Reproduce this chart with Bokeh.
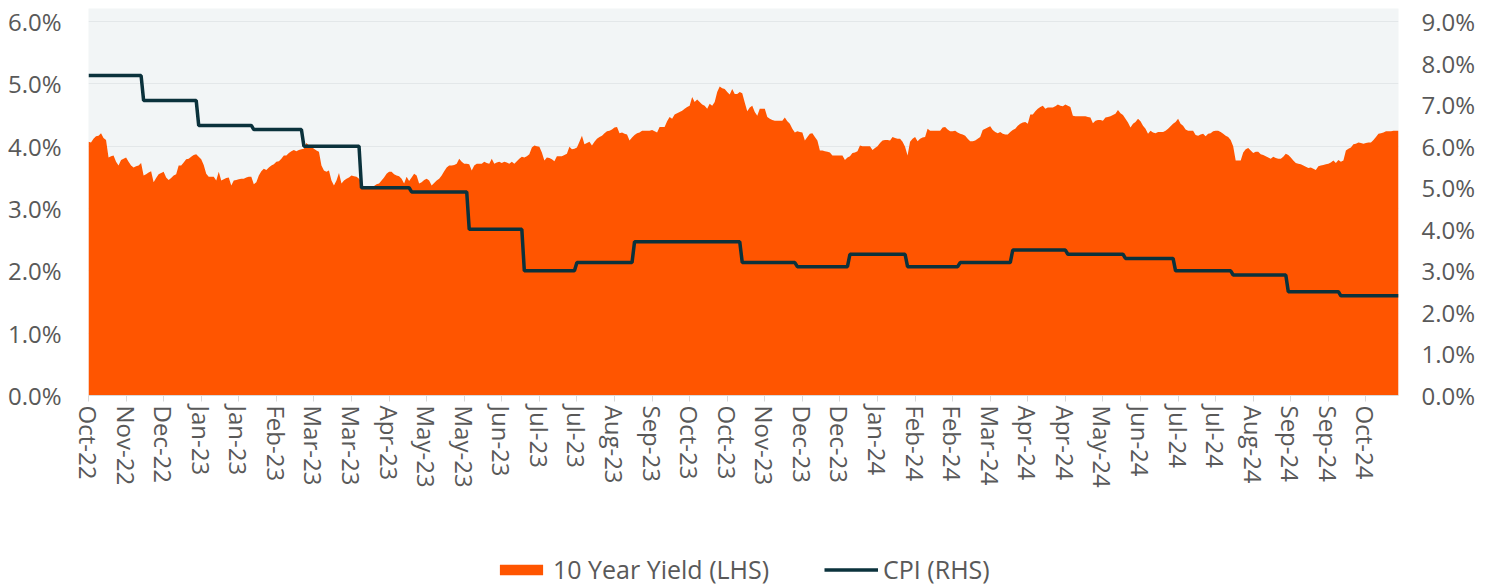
import numpy as np
import pandas as pd
from bokeh.plotting import figure
from bokeh.layouts import column
from bokeh.models import (Range1d, LinearAxis, FixedTicker, PrintfTickFormatter,
                          Legend, LegendItem, ColumnDataSource, Grid)
from bokeh.embed import file_html
from bokeh.resources import INLINE

# ---------------- data ----------------
first_day = "2022-10-31"
last_day = "2024-10-31"

# x-axis labels, one every 15 business days
tick_labels = ["Oct-22", "Nov-22", "Dec-22", "Jan-23", "Jan-23", "Feb-23", "Mar-23",
               "Mar-23", "Apr-23", "May-23", "May-23", "Jun-23", "Jul-23", "Jul-23",
               "Aug-23", "Sep-23", "Oct-23", "Oct-23", "Nov-23", "Dec-23", "Dec-23",
               "Jan-24", "Feb-24", "Feb-24", "Mar-24", "Apr-24", "Apr-24", "May-24",
               "Jun-24", "Jul-24", "Jul-24", "Aug-24", "Sep-24", "Sep-24", "Oct-24"]
label_every = 15

# 10 year treasury yield (%), one value per business day
yield_10y = [
    4.07, 4.06, 4.12, 4.16, 4.17, 4.21, 4.13, 4.10, 3.82, 3.84,
    3.85, 3.75, 3.69, 3.78, 3.80, 3.82, 3.75, 3.69, 3.66, 3.68,
    3.69, 3.73, 3.53, 3.55, 3.58, 3.60, 3.42, 3.49, 3.55, 3.57,
    3.59, 3.50, 3.46, 3.49, 3.53, 3.55, 3.69, 3.69, 3.74, 3.79,
    3.80, 3.83, 3.86, 3.87, 3.83, 3.79, 3.70, 3.56, 3.51, 3.51,
    3.51, 3.45, 3.59, 3.45, 3.47, 3.49, 3.50, 3.37, 3.45, 3.46,
    3.47, 3.48, 3.48, 3.50, 3.51, 3.51, 3.39, 3.42, 3.53, 3.60,
    3.64, 3.62, 3.66, 3.69, 3.71, 3.75, 3.76, 3.80, 3.85, 3.85,
    3.89, 3.92, 3.94, 3.92, 3.94, 3.95, 3.96, 4.05, 4.01, 3.99,
    3.96, 3.93, 3.91, 3.69, 3.61, 3.59, 3.61, 3.45, 3.37, 3.45,
    3.57, 3.40, 3.45, 3.48, 3.50, 3.53, 3.52, 3.51, 3.48, 3.43,
    3.33, 3.33, 3.34, 3.35, 3.36, 3.39, 3.40, 3.45, 3.50, 3.56,
    3.59, 3.59, 3.55, 3.53, 3.52, 3.48, 3.40, 3.51, 3.44, 3.50,
    3.56, 3.53, 3.40, 3.42, 3.46, 3.48, 3.45, 3.37, 3.41, 3.45,
    3.48, 3.53, 3.60, 3.66, 3.69, 3.69, 3.70, 3.72, 3.80, 3.75,
    3.72, 3.72, 3.71, 3.61, 3.69, 3.72, 3.72, 3.72, 3.75, 3.73,
    3.72, 3.80, 3.72, 3.74, 3.75, 3.73, 3.75, 3.74, 3.72, 3.75,
    3.72, 3.76, 3.80, 3.83, 3.82, 3.84, 3.87, 3.98, 4.01, 4.00,
    3.99, 3.90, 3.77, 3.82, 3.81, 3.79, 3.76, 3.84, 3.84, 3.84,
    3.86, 3.88, 3.99, 3.95, 3.96, 3.98, 4.07, 4.17, 4.03, 4.05,
    4.07, 4.01, 4.07, 4.12, 4.15, 4.17, 4.21, 4.24, 4.25, 4.27,
    4.30, 4.31, 4.21, 4.22, 4.20, 4.19, 4.09, 4.14, 4.18, 4.21,
    4.22, 4.25, 4.25, 4.25, 4.25, 4.26, 4.24, 4.22, 4.31, 4.31,
    4.31, 4.40, 4.47, 4.44, 4.51, 4.53, 4.55, 4.57, 4.60, 4.63,
    4.65, 4.79, 4.71, 4.75, 4.71, 4.67, 4.65, 4.60, 4.68, 4.65,
    4.71, 4.87, 4.96, 4.93, 4.92, 4.87, 4.83, 4.92, 4.84, 4.84,
    4.87, 4.85, 4.70, 4.56, 4.62, 4.65, 4.55, 4.49, 4.60, 4.60,
    4.60, 4.47, 4.44, 4.42, 4.41, 4.41, 4.41, 4.41, 4.46, 4.40,
    4.36, 4.28, 4.22, 4.24, 4.23, 4.22, 4.09, 4.15, 4.20, 4.21,
    4.15, 4.09, 3.93, 3.93, 3.92, 3.91, 3.90, 3.85, 3.85, 3.85,
    3.85, 3.85, 3.78, 3.82, 3.84, 3.89, 3.90, 3.92, 4.01, 4.00,
    4.00, 4.00, 4.00, 3.94, 3.97, 4.00, 4.05, 4.09, 4.10, 4.10,
    4.09, 4.15, 4.13, 4.12, 4.12, 4.07, 3.99, 3.85, 4.07, 4.12,
    4.15, 4.08, 4.12, 4.14, 4.15, 4.28, 4.25, 4.25, 4.25, 4.25,
    4.25, 4.30, 4.31, 4.27, 4.24, 4.24, 4.25, 4.22, 4.20, 4.19,
    4.17, 4.12, 4.08, 4.08, 4.09, 4.12, 4.15, 4.26, 4.28, 4.30,
    4.32, 4.26, 4.23, 4.21, 4.23, 4.20, 4.19, 4.19, 4.23, 4.26,
    4.28, 4.33, 4.36, 4.38, 4.39, 4.36, 4.51, 4.51, 4.56, 4.60,
    4.63, 4.65, 4.60, 4.62, 4.62, 4.62, 4.64, 4.67, 4.65, 4.64,
    4.67, 4.65, 4.63, 4.49, 4.48, 4.48, 4.48, 4.48, 4.48, 4.47,
    4.46, 4.37, 4.41, 4.42, 4.42, 4.41, 4.46, 4.47, 4.48, 4.50,
    4.52, 4.58, 4.53, 4.50, 4.44, 4.38, 4.30, 4.36, 4.39, 4.44,
    4.40, 4.33, 4.28, 4.20, 4.25, 4.22, 4.21, 4.23, 4.23, 4.23,
    4.25, 4.28, 4.32, 4.36, 4.39, 4.44, 4.36, 4.33, 4.27, 4.25,
    4.25, 4.25, 4.18, 4.17, 4.19, 4.20, 4.16, 4.20, 4.21, 4.24,
    4.25, 4.25, 4.23, 4.20, 4.17, 4.15, 4.10, 4.00, 3.77, 3.77,
    3.77, 3.90, 3.95, 3.97, 3.93, 3.89, 3.91, 3.91, 3.87, 3.86,
    3.84, 3.82, 3.80, 3.83, 3.81, 3.80, 3.80, 3.83, 3.88, 3.86,
    3.82, 3.77, 3.73, 3.72, 3.71, 3.69, 3.67, 3.65, 3.66, 3.64,
    3.62, 3.68, 3.69, 3.70, 3.71, 3.72, 3.74, 3.77, 3.73, 3.78,
    3.75, 3.77, 3.93, 3.96, 3.98, 4.03, 4.04, 4.06, 4.05, 4.04,
    4.05, 4.06, 4.06, 4.10, 4.15, 4.20, 4.21, 4.22, 4.24, 4.24,
    4.24, 4.25, 4.25, 4.25,
]

# CPI year-on-year (%), by reference month
cpi_months = ["2022-10", "2022-11", "2022-12", "2023-01", "2023-02", "2023-03",
              "2023-04", "2023-05", "2023-06", "2023-07", "2023-08", "2023-09",
              "2023-10", "2023-11", "2023-12", "2024-01", "2024-02", "2024-03",
              "2024-04", "2024-05", "2024-06", "2024-07", "2024-08", "2024-09"]
cpi_yoy = [7.7, 7.1, 6.5, 6.4, 6.0, 5.0, 4.9, 4.0, 3.0, 3.2, 3.7, 3.7,
           3.2, 3.1, 3.4, 3.1, 3.2, 3.5, 3.4, 3.3, 3.0, 2.9, 2.5, 2.4]

series_names = ["10 Year Yield (LHS)", "CPI (RHS)"]

# ---------------- build series ----------------
days = pd.bdate_range(first_day, last_day)
n = min(len(days), len(yield_10y))
days = days[:n]
x = np.arange(n)
y10 = np.array(yield_10y[:n])

# each CPI reading holds from the last business day of its month
starts = [pd.offsets.BMonthEnd().rollforward(pd.Timestamp(m + "-01")) for m in cpi_months]
cpi_daily = np.empty(n)
for k, d in enumerate(days):
    val = cpi_yoy[0]
    for s, v in zip(starts, cpi_yoy):
        if d >= s:
            val = v
    cpi_daily[k] = val

src = ColumnDataSource(dict(x=x, y10=y10, cpi=cpi_daily))

# ---------------- styling ----------------
FONT = "Open Sans"
TXT = "#595959"
ORANGE = "#FF5500"
NAVY = "#0B323C"

left_top = 6.21
p = figure(width=1478, height=500, output_backend="svg",
           toolbar_location=None,
           x_range=Range1d(0, n - 1), y_range=Range1d(0, left_top),
           min_border_left=88, min_border_right=80, min_border_top=8,
           min_border_bottom=105)
p.extra_y_ranges = {"cpi": Range1d(0, left_top * 1.5)}

p.background_fill_color = "#F2F5F6"
p.border_fill_color = "white"
p.outline_line_color = None

area = p.varea(x="x", y1=0, y2="y10", source=src, fill_color=ORANGE)
line = p.line(x="x", y="cpi", source=src, y_range_name="cpi",
              line_color=NAVY, line_width=3.5)

# left axis
ya = p.yaxis[0]
ya.ticker = FixedTicker(ticks=[0, 1, 2, 3, 4, 5, 6])
ya.formatter = PrintfTickFormatter(format="%.1f%%")
ya.axis_line_color = None
ya.major_tick_line_color = None
ya.minor_tick_line_color = None
ya.major_label_standoff = 21
ya.major_label_text_font = FONT
ya.major_label_text_font_size = "24px"
ya.major_label_text_color = TXT

# right axis
ra = LinearAxis(y_range_name="cpi")
ra.ticker = FixedTicker(ticks=[0, 1, 2, 3, 4, 5, 6, 7, 8, 9])
ra.formatter = PrintfTickFormatter(format="%.1f%%")
ra.axis_line_color = None
ra.major_tick_line_color = None
ra.minor_tick_line_color = None
ra.major_label_standoff = 17
ra.major_label_text_font = FONT
ra.major_label_text_font_size = "24px"
ra.major_label_text_color = TXT
p.add_layout(ra, "right")

# bottom axis
xa = p.xaxis[0]
tick_pos = [i * label_every for i in range(len(tick_labels))]
xa.ticker = FixedTicker(ticks=tick_pos)
xa.major_label_overrides = {t: lab for t, lab in zip(tick_pos, tick_labels)}
xa.major_label_orientation = "vertical"
xa.axis_line_color = "#D9D9D9"
xa.major_tick_line_color = "#D9D9D9"
xa.major_tick_out = 6
xa.major_tick_in = 0
xa.minor_tick_line_color = None
xa.major_label_standoff = 4
xa.major_label_text_font = FONT
xa.major_label_text_font_size = "24px"
xa.major_label_text_color = TXT

p.xgrid.grid_line_color = None
p.ygrid.grid_line_color = "#E3E7E9"
p.ygrid.grid_line_width = 1

# ---------------- legend strip below the chart ----------------
# same series, drawn out of this strip's view; only their legend keys show
lg = figure(width=1478, height=87, output_backend="svg", toolbar_location=None,
            x_range=Range1d(0, n - 1), y_range=Range1d(100, 101),
            x_axis_location=None, y_axis_location=None,
            min_border_left=88, min_border_right=80, min_border_top=0,
            min_border_bottom=0)
lg.outline_line_color = None
lg.background_fill_color = "white"
lg.border_fill_color = "white"
for r in list(lg.center):
    if isinstance(r, Grid):
        r.visible = False
key_area = lg.varea(x="x", y1=0, y2="y10", source=src, fill_color=ORANGE)
key_line = lg.line(x="x", y="cpi", source=src, line_color=NAVY, line_width=3.5)

legend = Legend(items=[LegendItem(label=series_names[0], renderers=[key_area]),
                       LegendItem(label=series_names[1], renderers=[key_line])],
                orientation="horizontal", location=(406, 1))
legend.label_text_font = FONT
legend.label_text_font_size = "25px"
legend.label_text_color = TXT
legend.glyph_width = 54
legend.glyph_height = 13
legend.spacing = 55
legend.label_standoff = 5
legend.padding = 0
legend.margin = 0
legend.border_line_color = None
legend.background_fill_alpha = 0
lg.add_layout(legend)

open("out.html", "w").write(file_html(column(p, lg, spacing=0), INLINE))
